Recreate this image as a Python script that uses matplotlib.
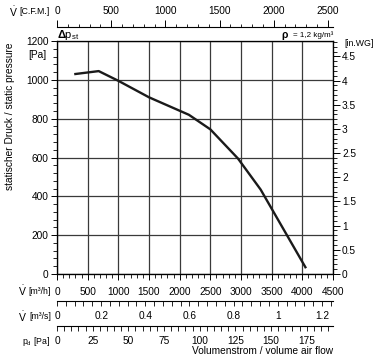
import numpy as np
import matplotlib.pyplot as plt
from matplotlib.ticker import MultipleLocator

plt.rcParams['font.family'] = ['Liberation Sans', 'DejaVu Sans']
plt.rcParams['mathtext.fontset'] = 'custom'
plt.rcParams['mathtext.rm'] = 'Liberation Sans'
plt.rcParams['mathtext.bf'] = 'Liberation Sans:bold'

# fan curve, static pressure over volume flow
flow_m3h = [300, 680, 1000, 1500, 2150, 2500, 2950, 3320, 4050]
p_st = [1030, 1045, 995, 910, 820, 745, 595, 435, 35]

pa_ticks = [0, 200, 400, 600, 800, 1000, 1200]
inwg_ticks = [0, 0.5, 1, 1.5, 2, 2.5, 3, 3.5, 4, 4.5]
inwg_labels = ['0', '0.5', '1', '1.5', '2', '2.5', '3', '3.5', '4', '4.5']
m3h_ticks = [0, 500, 1000, 1500, 2000, 2500, 3000, 3500, 4000, 4500]
cfm_ticks = [0, 500, 1000, 1500, 2000, 2500]
m3s_ticks = [0, 0.2, 0.4, 0.6, 0.8, 1, 1.2]
m3s_labels = ['0', '0.2', '0.4', '0.6', '0.8', '1', '1.2']
pd_ticks = [0, 25, 50, 75, 100, 125, 150, 175]

W, H = 380.0, 359.0
left, right, top, bottom = 57, 333, 41, 274
fs = 7.3

fig = plt.figure(figsize=(3.8, 3.59), dpi=100)
ax = fig.add_axes([left / W, 1 - bottom / H, (right - left) / W, (bottom - top) / H])

ax.plot(flow_m3h, p_st, color='#1a1a1a', lw=1.7, solid_joinstyle='round', zorder=3)
ax.set_xlim(0, 4500)
ax.set_ylim(0, 1200)
ax.set_xticks(m3h_ticks)
ax.set_yticks(pa_ticks)
ax.xaxis.set_minor_locator(MultipleLocator(100))
ax.yaxis.set_minor_locator(MultipleLocator(40))
ax.grid(True, which='major', color='#3a3a3a', lw=0.9)
ax.tick_params(axis='both', which='major', direction='out', length=4.5, width=0.7, labelsize=fs, pad=1.5)
ax.tick_params(axis='both', which='minor', direction='out', length=2.8, width=0.6)
ax.tick_params(axis='x', which='major', pad=5)
for s in ax.spines.values():
	s.set_linewidth(0.9)
	s.set_color('#222222')

# right axis in inches water gauge
ax2 = ax.twinx()
ax2.set_ylim(0, 1200 / 249.089)
ax2.set_yticks(inwg_ticks)
ax2.set_yticklabels(inwg_labels)
ax2.yaxis.set_minor_locator(MultipleLocator(0.1))
ax2.tick_params(axis='y', which='major', direction='out', length=5, width=0.7, labelsize=fs, pad=1.5)
ax2.tick_params(axis='y', which='minor', direction='out', length=3, width=0.6)

# top axis C.F.M.
cfm_y = 27
axt = fig.add_axes([left / W, 1 - cfm_y / H, (right - left) / W, 0])
axt.set_xlim(0, 2546)
axt.set_xticks(cfm_ticks)
axt.xaxis.set_minor_locator(MultipleLocator(100))
axt.xaxis.tick_top()
axt.set_yticks([])
axt.patch.set_visible(False)
for k in ['bottom', 'left', 'right']:
	axt.spines[k].set_visible(False)
axt.spines['top'].set_linewidth(0.8)
axt.tick_params(axis='x', which='major', direction='out', length=5, width=0.7, labelsize=fs, pad=3)
axt.tick_params(axis='x', which='minor', direction='out', length=2.5, width=0.6)

# lower scales: m3/s and dynamic pressure
def lower_scale(y, xmax, ticks, labels, minor):
	a = fig.add_axes([left / W, 1 - y / H, (right - left) / W, 0])
	a.set_xlim(0, xmax)
	a.set_xticks(ticks)
	a.set_xticklabels(labels)
	a.xaxis.set_minor_locator(MultipleLocator(minor))
	a.set_yticks([])
	a.patch.set_visible(False)
	for k in ['top', 'left', 'right']:
		a.spines[k].set_visible(False)
	a.spines['bottom'].set_linewidth(0.8)
	a.tick_params(axis='x', which='major', direction='out', length=3.5, width=0.6, labelsize=fs, pad=4)
	a.tick_params(axis='x', which='minor', direction='out', length=3.5, width=0.6)
	return a

lower_scale(300.5, 1.25, m3s_ticks, m3s_labels, 0.04)
lower_scale(326, 193.4, pd_ticks, [str(t) for t in pd_ticks], 5)

# texts
def ftext(x, y, s, **kw):
	fig.text(x / W, 1 - y / H, s, **kw)

vdot = r'$\dot{\mathrm{V}}$'
ftext(18, 12, vdot, fontsize=7.5, ha='right', va='center')
ftext(50, 12, '[C.F.M.]', fontsize=6.3, ha='right', va='center')
ftext(57, 35, r'$\mathbf{\Delta}\mathrm{p}_{\mathrm{st}}$', fontsize=8, ha='left', va='center')
ftext(288, 35, '\u03c1', fontsize=7.5, fontweight='bold', ha='right', va='center')
ftext(333, 35, '= 1,2 kg/m\u00b3', fontsize=5.8, ha='right', va='center')
ftext(344, 44, '[in.WG]', fontsize=6.3, ha='left', va='center')
ftext(28, 55, '[Pa]', fontsize=fs, ha='left', va='center')
ftext(10, 116, 'statischer Druck / static pressure', fontsize=fs, rotation=90, ha='center', va='center')
ftext(27, 291, vdot, fontsize=7.5, ha='right', va='center')
ftext(51, 291, '[m\u00b3/h]', fontsize=6.3, ha='right', va='center')
ftext(27, 316.5, vdot, fontsize=7.5, ha='right', va='center')
ftext(51, 316.5, '[m\u00b3/s]', fontsize=6.3, ha='right', va='center')
ftext(50, 341.5, r'p$_{\mathrm{d}}$ [Pa]', fontsize=6.3, ha='right', va='center')
ftext(333, 351.5, 'Volumenstrom / volume air flow', fontsize=fs, ha='right', va='center')

fig.savefig('out.png', dpi=100)
